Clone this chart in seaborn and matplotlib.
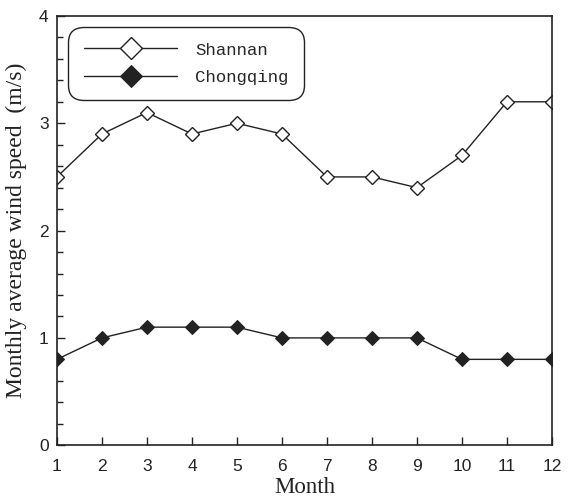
import matplotlib
matplotlib.use("Agg")
import matplotlib.pyplot as plt
import seaborn as sns
import pandas as pd
from matplotlib.ticker import MultipleLocator

months = list(range(1, 13))
shannan = [2.5, 2.9, 3.1, 2.9, 3.0, 2.9, 2.5, 2.5, 2.4, 2.7, 3.2, 3.2]
chongqing = [0.8, 1.0, 1.1, 1.1, 1.1, 1.0, 1.0, 1.0, 1.0, 0.8, 0.8, 0.8]

df = pd.DataFrame({
    "Month": months * 2,
    "Speed": shannan + chongqing,
    "City": ["Shannan"] * 12 + ["Chongqing"] * 12,
})

sns.set_style("ticks")
plt.rcParams["font.family"] = ["Liberation Sans", "DejaVu Sans"]

fig = plt.figure(figsize=(5.81, 4.98), dpi=100)
ax = fig.add_axes([0.098, 0.106, 0.852, 0.862])

sns.lineplot(data=df[df.City == "Shannan"], x="Month", y="Speed", ax=ax,
             color="#222222", lw=1.0, marker="D", markersize=7,
             markerfacecolor="white", markeredgecolor="#222222", markeredgewidth=1.0,
             label="Shannan")
sns.lineplot(data=df[df.City == "Chongqing"], x="Month", y="Speed", ax=ax,
             color="#222222", lw=1.0, marker="D", markersize=7,
             markerfacecolor="#222222", markeredgecolor="#222222",
             label="Chongqing")

ax.set_xlim(1, 12)
ax.set_ylim(0, 4)
ax.set_xticks(months)
ax.set_yticks([0, 1, 2, 3, 4])
ax.yaxis.set_minor_locator(MultipleLocator(0.2))
ax.tick_params(axis="both", which="major", direction="in", length=6, width=1,
               labelsize=12.5, color="#222222", labelcolor="#222222", pad=6)
ax.tick_params(axis="x", which="major", pad=10)
ax.tick_params(axis="y", which="minor", direction="in", length=4, width=1, color="#222222")
for s in ax.spines.values():
    s.set_linewidth(1.2)
    s.set_color("#222222")

ax.set_xlabel("Month", fontsize=16.5, family="Liberation Serif", color="#222222")
ax.xaxis.set_label_coords(0.5, -0.075)
ax.set_ylabel("Monthly average wind speed  (m/s)", fontsize=17, family="Liberation Serif",
              color="#222222")
ax.yaxis.set_label_coords(-0.06, 0.5)

leg = ax.legend(loc="upper left", bbox_to_anchor=(0.005, 0.995), handlelength=5.4,
                prop={"family": "Liberation Mono", "size": 12.5}, frameon=True,
                fancybox=True, borderpad=0.9, labelspacing=0.7, handletextpad=1.0,
                markerscale=1.6)
frame = leg.get_frame()
frame.set_edgecolor("#222222")
frame.set_linewidth(1.0)
frame.set_alpha(1)
frame.set_boxstyle("round,pad=0,rounding_size=0.9")

fig.savefig("out.png", dpi=100)
